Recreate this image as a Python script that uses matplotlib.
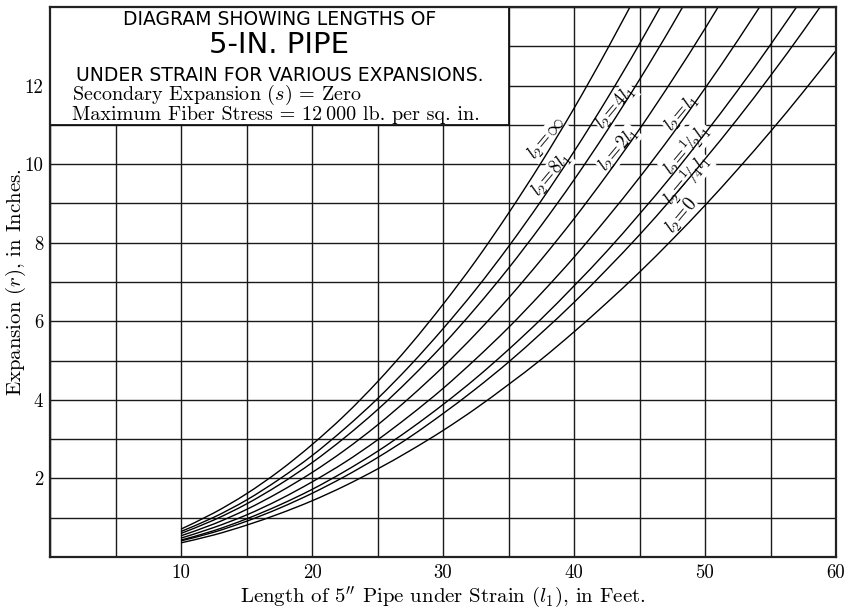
import matplotlib
matplotlib.use("Agg")
import matplotlib.pyplot as plt
from matplotlib.patches import Rectangle, PathPatch
from matplotlib.path import Path
import numpy as np

plt.rcParams['mathtext.fontset'] = 'cm'
plt.rcParams['font.family'] = ['cmr10', 'DejaVu Serif']
plt.rcParams['axes.formatter.use_mathtext'] = True

# ---- data ----
lengths = [10, 12.5, 15, 17.5, 20, 22.5, 25, 27.5, 30, 32.5, 35, 37.5, 40,
           42.5, 45, 47.5, 50, 52.5, 55, 57.5, 60]

r_inf = [0.71, 1.12, 1.61, 2.19, 2.86, 3.61, 4.46, 5.40, 6.43, 7.54, 8.75, 10.04,
         11.42, 12.90, 14.46]
r_8l1 = [0.65, 1.01, 1.45, 1.98, 2.58, 3.27, 4.03, 4.88, 5.81, 6.81, 7.90, 9.07,
         10.32, 11.65, 13.06, 14.55]
r_4l1 = [0.60, 0.94, 1.35, 1.84, 2.40, 3.04, 3.75, 4.54, 5.40, 6.34, 7.35, 8.44,
         9.60, 10.84, 12.15, 13.54, 15.00]
r_2l1 = [0.54, 0.84, 1.21, 1.65, 2.15, 2.72, 3.36, 4.07, 4.84, 5.68, 6.59, 7.57,
         8.61, 9.72, 10.89, 12.14, 13.45, 14.83]
r_l1 = [0.48, 0.75, 1.07, 1.46, 1.91, 2.41, 2.98, 3.61, 4.29, 5.04, 5.84, 6.71,
        7.63, 8.62, 9.66, 10.76, 11.93, 13.15, 14.43]
r_half = [0.43, 0.67, 0.97, 1.32, 1.72, 2.18, 2.69, 3.26, 3.88, 4.55, 5.28, 6.06,
          6.90, 7.78, 8.73, 9.72, 10.78, 11.88, 13.04, 14.25]
r_quarter = [0.41, 0.63, 0.91, 1.24, 1.62, 2.05, 2.53, 3.06, 3.65, 4.28, 4.96, 5.70,
             6.48, 7.32, 8.20, 9.14, 10.13, 11.16, 12.25, 13.39, 14.58]
r_zero = [0.36, 0.56, 0.81, 1.10, 1.43, 1.81, 2.24, 2.71, 3.22, 3.78, 4.39, 5.03,
          5.73, 6.47, 7.25, 8.08, 8.95, 9.87, 10.83, 11.84, 12.89]

series = [r_inf, r_8l1, r_4l1, r_2l1, r_l1, r_half, r_quarter, r_zero]

curve_labels = [r"$l_2\!=\!\infty$", r"$l_2\!=\!8l_1$", r"$l_2\!=\!4l_1$",
                r"$l_2\!=\!2l_1$", r"$l_2\!=\!l_1$",
                r"$l_2\!=\!{}^1\!\!/\!_2l_1$", r"$l_2\!=\!{}^1\!\!/\!_4l_1$",
                r"$l_2\!=\!0$"]
label_pos = [(37.9, 10.64), (38.3, 9.74), (43.2, 11.45), (43.4, 10.38),
             (48.2, 11.3), (48.6, 10.38), (48.6, 9.62), (48.2, 8.67)]

x_ticks = [10, 20, 30, 40, 50, 60]
y_ticks = [2, 4, 6, 8, 10, 12]

title_lines = ["DIAGRAM SHOWING LENGTHS OF", "5-IN. PIPE",
               "UNDER STRAIN FOR VARIOUS EXPANSIONS."]
note_lines = [r"Secondary Expansion ($s$) = Zero",
              "Maximum Fiber Stress = 12\u2009000 lb. per sq. in."]


def smooth_path(xs, ys):
    """Catmull-Rom curve through the given points, as cubic Bezier path."""
    pts = np.column_stack([xs, ys]).astype(float)
    n = len(pts)
    verts = [pts[0]]
    codes = [Path.MOVETO]
    for i in range(n - 1):
        p0 = pts[i - 1] if i > 0 else pts[i]
        p1 = pts[i]
        p2 = pts[i + 1]
        p3 = pts[i + 2] if i + 2 < n else pts[i + 1]
        verts += [p1 + (p2 - p0) / 6.0, p2 - (p3 - p1) / 6.0, p2]
        codes += [Path.CURVE4] * 3
    return Path(verts, codes)


# ---- figure ----
fig = plt.figure(figsize=(8.51, 6.12), dpi=100)
ax = fig.add_axes([50 / 851, 1 - 557 / 612, 786 / 851, 550 / 612])
ax.set_xlim(0, 60)
ax.set_ylim(0, 14)

grid_x = list(range(0, 61, 5))
grid_y = list(range(0, 15))
ax.set_xticks(grid_x)
ax.set_xticklabels([str(v) if v in x_ticks else "" for v in grid_x])
ax.set_yticks(grid_y)
ax.set_yticklabels([str(v) if v in y_ticks else "" for v in grid_y])
ax.tick_params(length=0, labelsize=13.5, pad=5)
ax.set_axisbelow(True)
ax.grid(True, color="#1a1a1a", lw=1.0)
for s in ax.spines.values():
    s.set_linewidth(1.6)
    s.set_color("#222222")
    s.set_zorder(6)

for ys in series:
    p = PathPatch(smooth_path(lengths[:len(ys)], ys), fill=False,
                  edgecolor="black", lw=1.0, zorder=3)
    ax.add_patch(p)
    p.set_clip_path(ax.patch)

for txt, (lx, ly) in zip(curve_labels, label_pos):
    ax.text(lx, ly, txt, rotation=50, ha="center", va="center", fontsize=13.5,
            zorder=2, rotation_mode="anchor",
            bbox=dict(boxstyle="square,pad=0.02", fc="white", ec="none"))

# title box
ax.add_patch(Rectangle((0, 11), 35, 3, facecolor="white", edgecolor="#111111",
                       lw=1.3, zorder=4))
tf = ["DejaVu Sans"]
ax.text(17.5, 13.69, title_lines[0], ha="center", va="center", fontsize=13.5,
        family=tf, zorder=5)
ax.text(17.5, 13.03, title_lines[1], ha="center", va="center", fontsize=21,
        family=tf, zorder=5)
ax.text(17.5, 12.26, title_lines[2], ha="center", va="center", fontsize=13.5,
        family=tf, zorder=5)
ax.text(1.7, 11.64, note_lines[0], ha="left", va="baseline", fontsize=14.5, zorder=5)
ax.text(1.7, 11.12, note_lines[1], ha="left", va="baseline", fontsize=14.5, zorder=5)

ax.set_xlabel(r"Length of 5$^{\prime\prime}$ Pipe under Strain ($l_1$), in Feet.",
              fontsize=15, labelpad=2)
ax.set_ylabel(r"Expansion ($r$), in Inches.", fontsize=15, labelpad=-3)

fig.savefig("out.png", dpi=100)
